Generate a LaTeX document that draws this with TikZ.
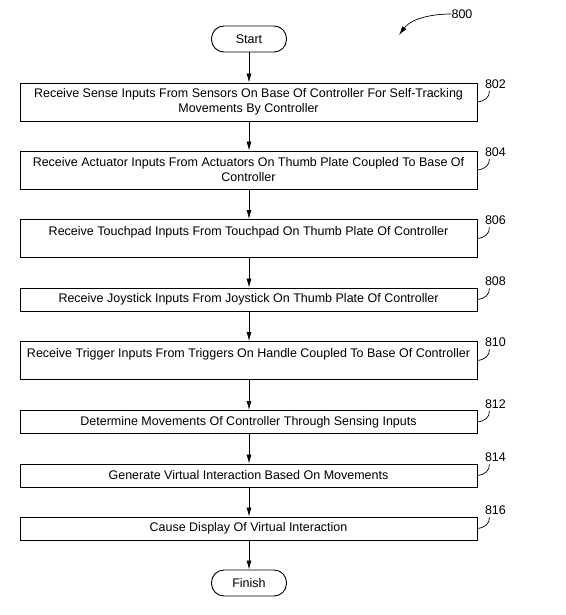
\documentclass[tikz,border=0pt]{standalone}
\usepackage{fontspec}
\setmainfont{Liberation Sans}
\usetikzlibrary{arrows.meta}
\begin{document}
\begin{tikzpicture}[x=1pt,y=-1pt,
  txt/.style={font=\fontsize{12.5}{15}\selectfont},
  stepbox/.style={draw, line width=0.9pt, minimum width=457pt, inner sep=0pt, align=center, txt},
  tallbox/.style={stepbox, minimum height=38pt},
  shortbox/.style={stepbox, minimum height=23pt},
  term/.style={draw, line width=0.9pt, rounded corners=12.5pt, minimum width=75pt, minimum height=26pt, inner sep=0pt, txt},
  flow/.style={-{Latex[length=9pt,width=5pt]}, line width=0.7pt},
  reflabel/.style={inner sep=0pt, txt},
  hookline/.style={line width=0.7pt}]
\useasboundingbox (0,0) rectangle (565,615);

\node[term] (start) at (249,39) {Start};
\node[tallbox] (b802) at (248.5,102) {Receive Sense Inputs From Sensors On Base Of Controller For Self-Tracking\\Movements By Controller};
\node[tallbox] (b804) at (248.5,170) {Receive Actuator Inputs From Actuators On Thumb Plate Coupled To Base Of\\Controller};
\node[tallbox] (b806) at (248.5,238.5) {Receive Touchpad Inputs From Touchpad On Thumb Plate Of Controller\\\mbox{}};
\node[shortbox] (b808) at (248.5,299.5) {Receive Joystick Inputs From Joystick On Thumb Plate Of Controller};
\node[tallbox] (b810) at (248.5,360.5) {Receive Trigger Inputs From Triggers On Handle Coupled To Base Of Controller\\\mbox{}};
\node[shortbox] (b812) at (248.5,422) {Determine Movements Of Controller Through Sensing Inputs};
\node[shortbox] (b814) at (248.5,475.5) {Generate Virtual Interaction Based On Movements};
\node[shortbox] (b816) at (248.5,528.5) {Cause Display Of Virtual Interaction};
\node[term] (finish) at (249,583) {Finish};

\draw[flow] (start.south) -- (start.south |- b802.north);
\draw[flow] (start.south |- b802.south) -- (start.south |- b804.north);
\draw[flow] (start.south |- b804.south) -- (start.south |- b806.north);
\draw[flow] (start.south |- b806.south) -- (start.south |- b808.north);
\draw[flow] (start.south |- b808.south) -- (start.south |- b810.north);
\draw[flow] (start.south |- b810.south) -- (start.south |- b812.north);
\draw[flow] (start.south |- b812.south) -- (start.south |- b814.north);
\draw[flow] (start.south |- b814.south) -- (start.south |- b816.north);
\draw[flow] (start.south |- b816.south) -- (finish.north);

\foreach \b in {802,804,806,808,810,812,814,816} {
  \node[reflabel] (l\b) at ([shift={(18,-18)}]b\b.east) {\b};
  \coordinate (h\b) at ([shift={(12,-11)}]b\b.east);
  \draw[hookline] (b\b.east) .. controls ([shift={(8,-1)}]b\b.east) and ([shift={(12,-5)}]b\b.east) .. (h\b);
}

\node[reflabel] (l800) at (462,14) {800};
\coordinate (t800) at (399,35);
\draw[flow] (l800.west) .. controls (428,14) and (410,20) .. (t800);
\end{tikzpicture}
\end{document}
